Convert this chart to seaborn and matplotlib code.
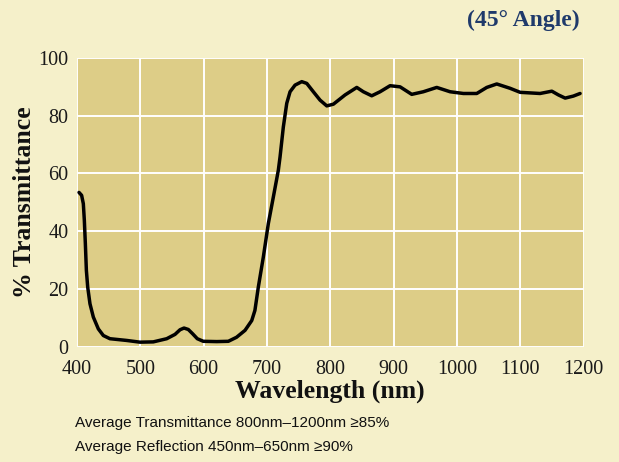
import matplotlib
matplotlib.use("Agg")
import matplotlib.pyplot as plt
import seaborn as sns
import pandas as pd

wavelength = [403.2, 407.3, 410.0, 411.6, 413.2, 414.8, 416.9, 420.5, 425.8, 433.7, 441.6, 452.0,
              478.5, 499.5, 520.5, 541.7, 554.8, 562.7, 569.0, 575.8, 582.7, 590.0, 599.5, 620.7,
              639.0, 652.0, 665.4, 676.0, 681.0, 686.4, 694.3, 702.2, 710.1, 718.0, 720.7, 725.9,
              731.3, 736.5, 744.4, 755.0, 762.9, 773.3, 783.9, 794.5, 805.0, 823.4, 841.9, 852.3,
              865.5, 878.7, 894.5, 910.3, 928.7, 947.0, 968.2, 989.3, 1010.3, 1031.4, 1047.2,
              1063.0, 1084.0, 1100.0, 1131.4, 1150.0, 1160.4, 1171.0, 1184.0, 1194.6]
transmittance = [53.4, 52.4, 49.5, 43.7, 35.6, 26.4, 20.6, 14.8, 10.2, 6.1, 3.8, 2.7,
                 2.1, 1.5, 1.6, 2.7, 4.2, 5.8, 6.4, 5.9, 4.4, 2.7, 1.8, 1.7,
                 1.8, 3.2, 5.6, 9.0, 12.5, 20.6, 31.0, 42.6, 51.8, 61.1, 65.7, 76.1,
                 84.3, 88.3, 90.6, 91.8, 91.2, 88.3, 85.4, 83.4, 84.0, 87.2, 89.8, 88.3,
                 86.9, 88.3, 90.4, 90.0, 87.4, 88.3, 89.8, 88.3, 87.7, 87.7, 89.8,
                 91.0, 89.5, 88.1, 87.7, 88.5, 87.2, 86.1, 86.8, 87.7]
x_ticks = [400, 500, 600, 700, 800, 900, 1000, 1100, 1200]
y_ticks = [0, 20, 40, 60, 80, 100]
title = "(45° Angle)"
x_label = "Wavelength (nm)"
y_label = "% Transmittance"
notes = ["Average Transmittance 800nm–1200nm ≥85%",
         "Average Reflection 450nm–650nm ≥90%"]

sns.set_style("whitegrid")
plt.rcParams["font.family"] = ["Liberation Serif", "DejaVu Serif"]

BG = "#F5F0CA"
PLOT_BG = "#DDCD87"

fig = plt.figure(figsize=(6.19, 4.62), dpi=100, facecolor=BG)
ax = fig.add_axes([77 / 619, (462 - 346.5) / 462, 506.5 / 619, 288.5 / 462])
ax.set_facecolor(PLOT_BG)

df = pd.DataFrame({"wl": wavelength, "T": transmittance})
sns.lineplot(data=df, x="wl", y="T", ax=ax, color="black", linewidth=2.5, sort=False)

ax.set_xlim(400, 1200)
ax.set_ylim(0, 100)
ax.set_xticks(x_ticks)
ax.set_yticks(y_ticks)
ax.grid(True, color="white", linewidth=1.4)
for s in ax.spines.values():
    s.set_visible(False)
ax.tick_params(axis="both", length=0, labelsize=14.5, colors="#1a1a1a")
ax.tick_params(axis="x", pad=10)
ax.tick_params(axis="y", pad=6)
ax.set_xlabel(x_label, fontsize=18.5, fontweight="bold", color="#111111", labelpad=0)
ax.set_ylabel(y_label, fontsize=18.5, fontweight="bold", color="#111111", labelpad=2)

fig.text(580 / 619, 1 - 20 / 462, title, ha="right", va="center", fontsize=17,
         fontweight="bold", color="#1F3A6B")

sans = ["Liberation Sans Narrow", "Liberation Sans", "DejaVu Sans"]
fig.text(75 / 619, 1 - 423 / 462, notes[0], ha="left", va="center", fontsize=11,
         family=sans, color="#111111")
fig.text(75 / 619, 1 - 447 / 462, notes[1], ha="left", va="center", fontsize=11,
         family=sans, color="#111111")

fig.savefig("out.png", dpi=100, facecolor=BG)
